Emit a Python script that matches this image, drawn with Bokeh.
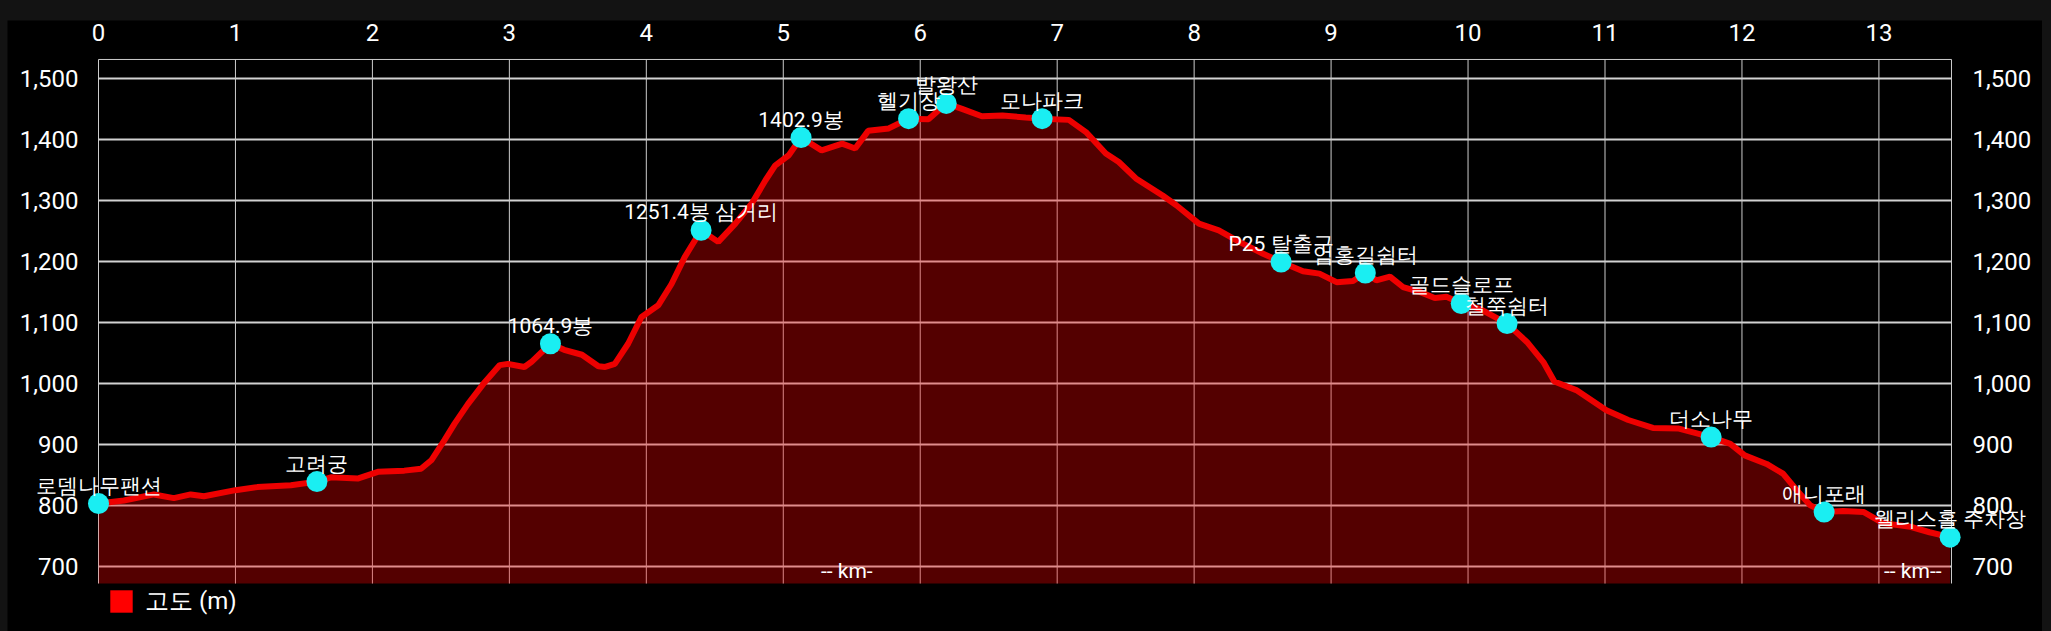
from bokeh.plotting import figure
from bokeh.layouts import column, row
from bokeh.models import (Range1d, LinearAxis, FixedTicker, NumeralTickFormatter, Legend,
                          LegendItem, ColumnDataSource, Label, Spacer)
from bokeh.embed import file_html
from bokeh.resources import INLINE

# elevation profile (distance km, elevation m)
km = [0.00, 0.185, 0.405, 0.55, 0.673, 0.77, 1.00, 1.16, 1.405, 1.595, 1.697, 1.892, 2.04, 2.233,
      2.355, 2.43, 2.526, 2.60, 2.697, 2.82, 2.93, 2.99, 3.11, 3.16, 3.30, 3.40, 3.53, 3.65, 3.70,
      3.77, 3.867, 3.965, 4.087, 4.184, 4.28, 4.40, 4.525, 4.65, 4.77, 4.87, 4.94, 5.04, 5.13,
      5.28, 5.43, 5.525, 5.62, 5.77, 5.915, 6.06, 6.19, 6.305, 6.45, 6.60, 6.77, 6.89, 7.085,
      7.21, 7.355, 7.45, 7.575, 7.77, 7.87, 8.035, 8.18, 8.33, 8.50, 8.635, 8.795, 8.915, 9.04,
      9.16, 9.25, 9.33, 9.43, 9.525, 9.647, 9.757, 9.843, 9.95, 10.087, 10.285, 10.43, 10.55,
      10.63, 10.79, 11.01, 11.17, 11.35, 11.54, 11.775, 11.915, 12.02, 12.18, 12.30, 12.40,
      12.50, 12.60, 12.74, 12.89, 13.03, 13.23, 13.37, 13.52]
elev = [803, 808, 818, 812, 818, 815, 825, 830, 833, 839, 846, 844, 855, 857,
        860, 874, 907, 934, 966, 1002, 1030, 1032, 1027, 1035, 1065, 1055, 1047, 1028, 1027,
        1032, 1065, 1109, 1128, 1163, 1207, 1251, 1232, 1262, 1295, 1333, 1357, 1374, 1403,
        1382, 1393, 1385, 1414, 1418, 1434, 1433, 1459, 1450, 1438, 1439, 1436, 1434, 1432,
        1412, 1377, 1363, 1336, 1308, 1292, 1262, 1251, 1232, 1213, 1199, 1184, 1180, 1166,
        1168, 1181, 1169, 1175, 1158, 1150, 1140, 1142, 1131, 1122, 1098, 1068, 1035,
        1003, 989, 956, 940, 927, 926, 912, 901, 882, 868, 852, 825,
        800, 789, 791, 789, 771, 765, 756, 748]

# waypoints
wp_names = ["로뎀나무팬션", "고려궁", "1064.9봉", "1251.4봉 삼거리", "1402.9봉", "헬기장", "발왕산",
            "모나파크", "P25 탈출구", "엄홍길쉼터", "골드슬로프", "철쭉쉼터", "더소나무", "애니포래",
            "웰리스홀 주차장"]
wp_km = [0.00, 1.595, 3.30, 4.40, 5.13, 5.915, 6.19, 6.89, 8.635, 9.25, 9.95, 10.285, 11.775,
         12.60, 13.52]
wp_elev = [803, 839, 1065, 1251, 1403, 1434, 1459, 1434, 1199, 1181, 1131, 1098, 912, 789, 748]

x_ticks = list(range(0, 14))
y_ticks = list(range(700, 1501, 100))
x_max = 13.53            # end of the distance axis
y_lo, y_hi = 672, 1531   # elevation axis extent
unit_text = ["-- km-", "-- km--"]
unit_km = 5.275
unit_elev = 693
legend_label = "고도 (m)"

# view window (the whole canvas is the frame, axes sit at fixed locations)
view_x = (-0.6645, 14.1945)
view_y = (593.3, 1594.9)

FONT = "Roboto"
GRID = "#cccccc"

p = figure(width=2035, height=611, output_backend="svg", toolbar_location=None, title=None,
           x_range=Range1d(*view_x), y_range=Range1d(*view_y),
           x_axis_location="above", y_axis_location="left",
           background_fill_color="black", border_fill_color="black",
           min_border=0, outline_line_color=None)
p.grid.visible = False

for ax in (p.xaxis[0], p.yaxis[0]):
    ax.axis_line_color = None
    ax.major_tick_line_color = None
    ax.minor_tick_line_color = None
    ax.major_label_text_color = "white"
    ax.major_label_text_font = FONT
    ax.major_label_text_font_size = "24px"

p.xaxis[0].ticker = FixedTicker(ticks=x_ticks)
p.xaxis[0].fixed_location = y_hi
p.xaxis[0].major_label_standoff = 12
p.yaxis[0].ticker = FixedTicker(ticks=y_ticks)
p.yaxis[0].formatter = NumeralTickFormatter(format="0,0")
p.yaxis[0].fixed_location = 0
p.yaxis[0].major_label_standoff = 14

ry = LinearAxis(ticker=FixedTicker(ticks=y_ticks), formatter=NumeralTickFormatter(format="0,0"),
                fixed_location=x_max,
                axis_line_color=None, major_tick_line_color=None, minor_tick_line_color=None,
                major_label_text_color="white", major_label_text_font=FONT,
                major_label_text_font_size="24px", major_label_standoff=15)
p.add_layout(ry, "right")

# grid lines of the plot area, drawn from the tick lists
p.segment(x0=0, x1=x_max, y0=y_ticks, y1=y_ticks, line_color="#d2d2d2", line_width=2,
          level="underlay")
p.segment(x0=x_ticks + [x_max], x1=x_ticks + [x_max], y0=y_lo, y1=y_hi, line_color=GRID,
          line_width=1, level="underlay")
p.segment(x0=[0], x1=[x_max], y0=[y_hi], y1=[y_hi], line_color=GRID, line_width=1,
          level="underlay")

src = ColumnDataSource(dict(x=km, y=elev))
p.varea(x="x", y1=y_lo, y2="y", source=src, fill_color="#ff0000", fill_alpha=0.33)
p.line(x="x", y="y", source=src, line_color="#ee0000", line_width=6)

wp = ColumnDataSource(dict(x=wp_km, y=wp_elev, name=wp_names))
p.scatter(x="x", y="y", source=wp, size=21, fill_color="#1aeef2", line_color=None)

for name, xk, ye in zip(wp_names, wp_km, wp_elev):
    p.add_layout(Label(x=xk, y=ye, text=name, text_color="white", text_font=FONT,
                       text_font_size="21px", text_align="center",
                       text_baseline="alphabetic", y_offset=18))

p.add_layout(Label(x=unit_km, y=unit_elev, text=unit_text[0], text_color="white",
                   text_font=FONT, text_font_size="21px", text_baseline="middle"))
p.add_layout(Label(x=x_max, y=unit_elev, x_offset=-10, text=unit_text[1], text_color="white",
                   text_font=FONT, text_font_size="21px", text_baseline="middle",
                   text_align="right"))

# legend proxy: a zero-size quad outside the view (only the legend swatch is seen)
leg_src = ColumnDataSource(dict(l=[0], r=[0], t=[0], b=[0]))
leg_r = p.quad(left="l", right="r", top="t", bottom="b", source=leg_src,
               fill_color="#ff0000", line_color=None)
legend = Legend(items=[LegendItem(label=legend_label, renderers=[leg_r])], location=(93, 7),
                orientation="horizontal", margin=0, padding=7, glyph_width=28, glyph_height=28,
                label_standoff=10, label_text_color="white", label_text_font=FONT,
                label_text_font_size="24px", background_fill_alpha=0, border_line_alpha=0)
p.add_layout(legend)

layout = row(Spacer(width=7, height=631), column(Spacer(width=2035, height=20), p))

html = file_html(layout, INLINE)
html = html.replace("<body>", '<body style="background-color:#131313;">')
open("out.html", "w").write(html)
